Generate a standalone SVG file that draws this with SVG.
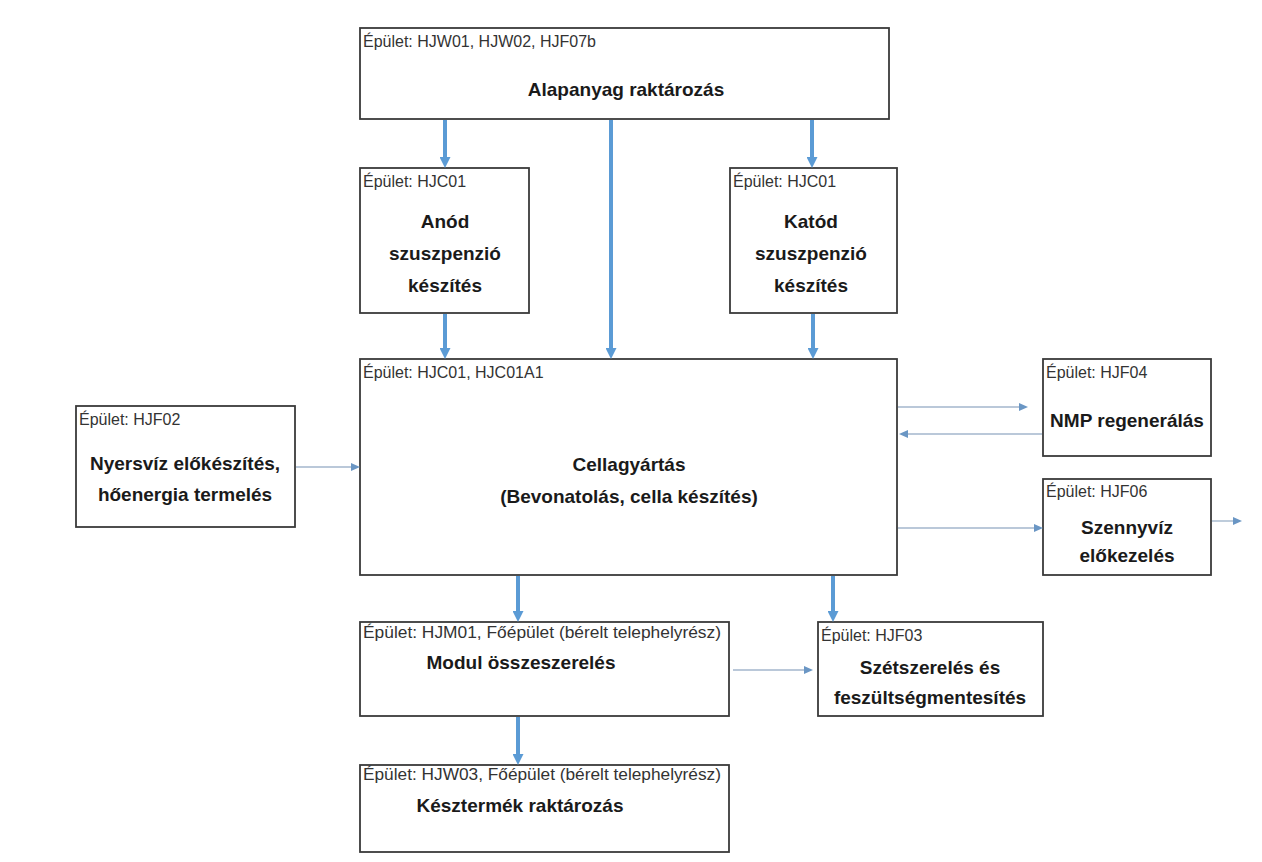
<svg xmlns="http://www.w3.org/2000/svg" width="1262" height="862" viewBox="0 0 1262 862">
<style>
.box{fill:#ffffff;stroke:#3a3a3a;stroke-width:1.8}
.lbl{font-family:"Liberation Sans",Arial,sans-serif;font-size:16px;fill:#333333}
.ttl{font-family:"Liberation Sans",Arial,sans-serif;font-size:19px;font-weight:bold;fill:#1a1a1a;text-anchor:middle}
.thick{stroke:#5B9BD5;stroke-width:4;fill:none}
.thin{stroke:#a3b6cc;stroke-width:1.4;fill:none}
</style>
<defs>
<marker id="ah" markerUnits="userSpaceOnUse" markerWidth="11" markerHeight="11" viewBox="0 0 11 11" refX="5" refY="5.5" orient="auto">
<path d="M0,0 L11,5.5 L0,11 z" fill="#5B9BD5"/>
</marker>
<marker id="ahs" markerUnits="userSpaceOnUse" markerWidth="9" markerHeight="8" viewBox="0 0 9 8" refX="4" refY="4" orient="auto">
<path d="M0,0 L9,4 L0,8 z" fill="#6a96c4"/>
</marker>
</defs>
<rect width="1262" height="862" fill="#ffffff"/>

<g id="alapanyag">
<rect class="box" x="360" y="28" width="529" height="91"/>
<text class="lbl" x="363" y="47">Épület: HJW01, HJW02, HJF07b</text>
<text class="ttl" x="626" y="96">Alapanyag raktározás</text>
</g>

<g id="anod">
<rect class="box" x="360" y="168" width="169" height="145"/>
<text class="lbl" x="363" y="187">Épület: HJC01</text>
<text class="ttl" x="445" y="228">Anód</text>
<text class="ttl" x="445" y="260">szuszpenzió</text>
<text class="ttl" x="445" y="292">készítés</text>
</g>

<g id="katod">
<rect class="box" x="730" y="168" width="167" height="145"/>
<text class="lbl" x="733" y="187">Épület: HJC01</text>
<text class="ttl" x="811" y="228">Katód</text>
<text class="ttl" x="811" y="260">szuszpenzió</text>
<text class="ttl" x="811" y="292">készítés</text>
</g>

<g id="cellagyartas">
<rect class="box" x="360" y="359" width="537" height="216"/>
<text class="lbl" x="363" y="378">Épület: HJC01, HJC01A1</text>
<text class="ttl" x="629" y="471">Cellagyártás</text>
<text class="ttl" x="629" y="503">(Bevonatolás, cella készítés)</text>
</g>

<g id="nyersviz">
<rect class="box" x="76" y="406" width="219" height="121"/>
<text class="lbl" x="79" y="425">Épület: HJF02</text>
<text class="ttl" x="185" y="470">Nyersvíz előkészítés,</text>
<text class="ttl" x="185" y="501">hőenergia termelés</text>
</g>

<g id="nmp">
<rect class="box" x="1043" y="359" width="168" height="97"/>
<text class="lbl" x="1046" y="378">Épület: HJF04</text>
<text class="ttl" x="1127" y="427">NMP regenerálás</text>
</g>

<g id="szennyviz">
<rect class="box" x="1043" y="479" width="168" height="96"/>
<text class="lbl" x="1046" y="497">Épület: HJF06</text>
<text class="ttl" x="1127" y="534">Szennyvíz</text>
<text class="ttl" x="1127" y="562">előkezelés</text>
</g>

<g id="modul">
<rect class="box" x="360" y="622" width="369" height="94"/>
<text class="lbl" x="363" y="638" textLength="358" lengthAdjust="spacingAndGlyphs">Épület: HJM01, Főépület (bérelt telephelyrész)</text>
<text class="ttl" x="521" y="669">Modul összeszerelés</text>
</g>

<g id="szetszereles">
<rect class="box" x="818" y="622" width="225" height="94"/>
<text class="lbl" x="821" y="641">Épület: HJF03</text>
<text class="ttl" x="930" y="674">Szétszerelés és</text>
<text class="ttl" x="930" y="704">feszültségmentesítés</text>
</g>

<g id="keszermek">
<rect class="box" x="360" y="765" width="369" height="87"/>
<text class="lbl" x="363" y="780" textLength="358" lengthAdjust="spacingAndGlyphs">Épület: HJW03, Főépület (bérelt telephelyrész)</text>
<text class="ttl" x="520" y="812">Késztermék raktározás</text>
</g>

<g id="connectors">
<line class="thick" x1="445" y1="120" x2="445" y2="162" marker-end="url(#ah)"/>
<line class="thick" x1="611" y1="120" x2="611" y2="353" marker-end="url(#ah)"/>
<line class="thick" x1="812" y1="120" x2="812" y2="162" marker-end="url(#ah)"/>
<line class="thick" x1="445" y1="314" x2="445" y2="353" marker-end="url(#ah)"/>
<line class="thick" x1="813" y1="314" x2="813" y2="353" marker-end="url(#ah)"/>
<line class="thick" x1="518" y1="576" x2="518" y2="616" marker-end="url(#ah)"/>
<line class="thick" x1="833" y1="576" x2="833" y2="616" marker-end="url(#ah)"/>
<line class="thick" x1="518" y1="717" x2="518" y2="759" marker-end="url(#ah)"/>
<line class="thin" x1="296" y1="467" x2="355" y2="467" marker-end="url(#ahs)"/>
<line class="thin" x1="898" y1="407" x2="1023" y2="407" marker-end="url(#ahs)"/>
<line class="thin" x1="1042" y1="434" x2="904" y2="434" marker-end="url(#ahs)"/>
<line class="thin" x1="898" y1="528" x2="1038" y2="528" marker-end="url(#ahs)"/>
<line class="thin" x1="1212" y1="521" x2="1237" y2="521" marker-end="url(#ahs)"/>
<line class="thin" x1="733" y1="670" x2="808" y2="670" marker-end="url(#ahs)"/>
</g>
</svg>
